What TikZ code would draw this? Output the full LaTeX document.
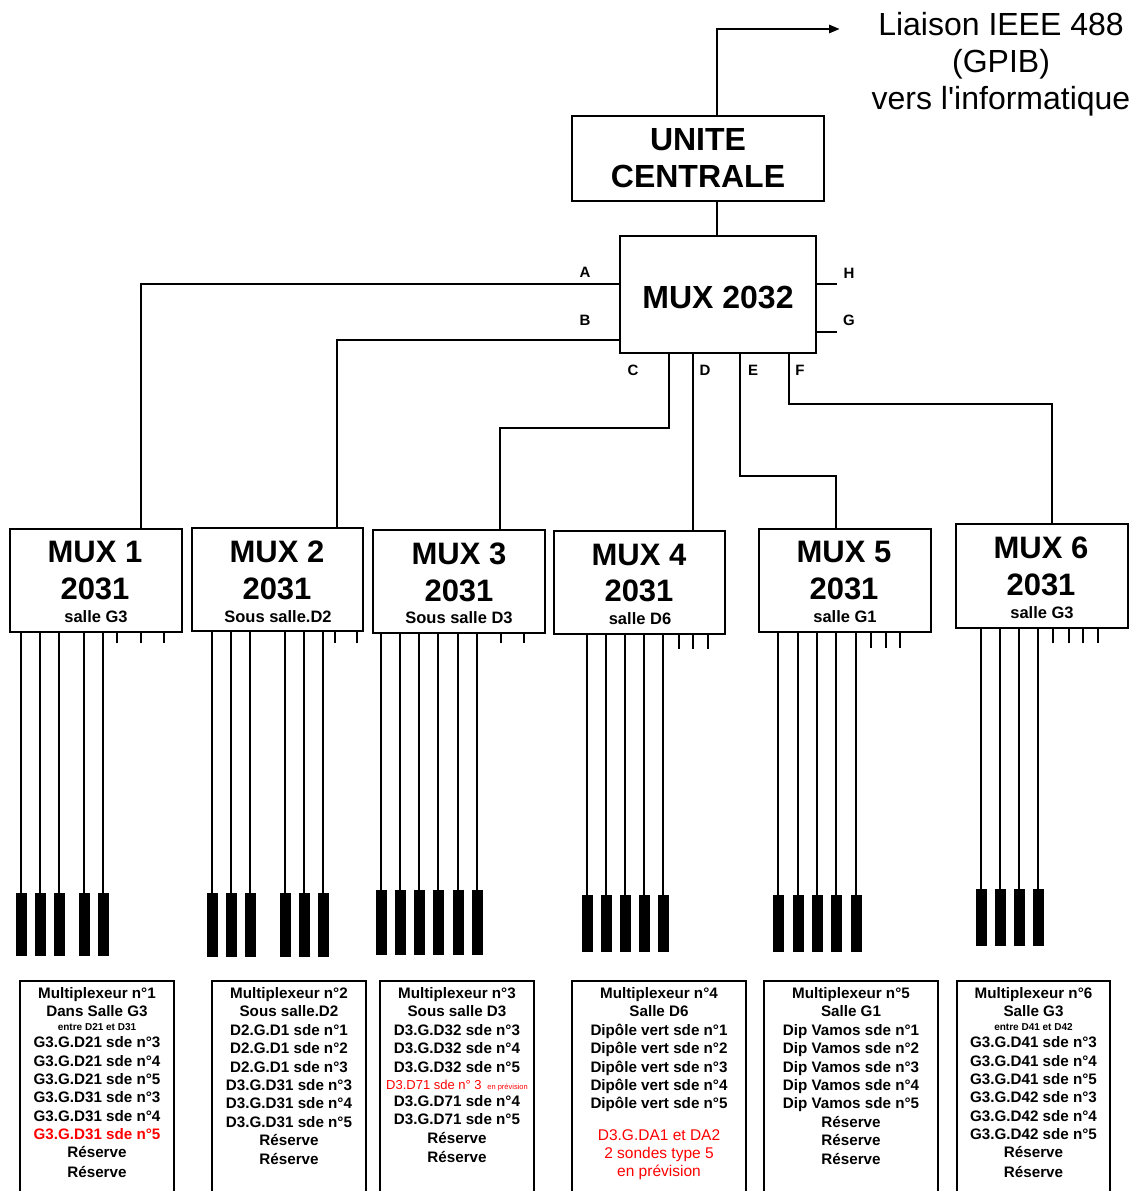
\documentclass[tikz,border=0pt]{standalone}
\usepackage{fontspec}
\setmainfont{Liberation Sans}
\usetikzlibrary{arrows.meta}
\begin{document}
\begin{tikzpicture}[x=1pt,y=-1pt,
  box/.style={draw,line width=2.8pt,inner sep=0pt},
  wire/.style={line width=2.8pt},
  lead/.style={line width=2.6pt},
  huge/.style={font=\fontsize{32}{37}\selectfont\bfseries,anchor=base,inner sep=0pt},
  muxt/.style={font=\fontsize{31}{37}\selectfont\bfseries,anchor=base,inner sep=0pt},
  sall/.style={font=\fontsize{16.5}{18}\selectfont\bfseries,anchor=base,inner sep=0pt},
  lnk/.style={font=\fontsize{32}{37}\selectfont,anchor=base,inner sep=0pt},
  port/.style={font=\fontsize{15}{18}\selectfont\bfseries,anchor=base,inner sep=0pt},
  txt/.style={font=\fontsize{15.2}{18}\selectfont\bfseries,anchor=base,inner sep=0pt},
  tiny/.style={font=\fontsize{10}{12}\selectfont\bfseries,anchor=base,inner sep=0pt},
  redt/.style={font=\fontsize{15.5}{18}\selectfont,text=red,anchor=base,inner sep=0pt}]
\useasboundingbox (0,0) rectangle (1138,1191);

% central unit
\node[box,minimum width=252pt,minimum height=85pt] (uc) at (698,158.5) {};
\node[huge] (uct1) at (698,150.5) {UNITE};
\node[huge] (uct2) at (698,187.5) {CENTRALE};

% link text
\node[lnk] (l1) at (1001,35.5) {Liaison IEEE 488};
\node[lnk] (l2) at (1001,72.5) {(GPIB)};
\node[lnk] (l3) at (1001,109.5) {vers l\textquotesingle informatique};
\coordinate (ucup) at (717,116);
\coordinate (arrend) at (840,29);
\draw[wire,-{Triangle[length=11pt,width=8pt]}] (ucup) |- (arrend);

% MUX 2032
\node[box,minimum width=196pt,minimum height=117pt] (m32) at (718,294.5) {};
\node[huge] (m32t) at (718,308.5) {MUX 2032};
\coordinate (ucdn) at (717,201);
\coordinate (m32up) at (717,236);
\draw[wire] (ucdn) -- (m32up);

% ports
\node[port] (lA) at (585,277) {A};
\node[port] (lB) at (585,325) {B};
\node[port] (lC) at (633,375) {C};
\node[port] (lD) at (705,375) {D};
\node[port] (lE) at (753,375) {E};
\node[port] (lF) at (800,375) {F};
\node[port] (lH) at (849,278) {H};
\node[port] (lG) at (849,325) {G};

% MUX 2031 boxes
\node[box,minimum width=172pt,minimum height=103pt] (mx1) at (96,580.5) {};
\node[box,minimum width=171pt,minimum height=103pt] (mx2) at (277.5,579.5) {};
\node[box,minimum width=172pt,minimum height=103pt] (mx3) at (459,581.5) {};
\node[box,minimum width=171pt,minimum height=103pt] (mx4) at (639.5,582.5) {};
\node[box,minimum width=172pt,minimum height=103pt] (mx5) at (845,580.5) {};
\node[box,minimum width=172pt,minimum height=104pt] (mx6) at (1042,576) {};

\node[muxt] (t1a) at (95,562) {MUX 1};
\node[muxt] (t1b) at (95,599) {2031};
\node[sall] (t1c) at (96,622) {salle G3};
\node[muxt] (t2a) at (277,562) {MUX 2};
\node[muxt] (t2b) at (277,599) {2031};
\node[sall] (t2c) at (278,622) {Sous salle.D2};
\node[muxt] (t3a) at (459,564) {MUX 3};
\node[muxt] (t3b) at (459,601) {2031};
\node[sall] (t3c) at (459,623) {Sous salle D3};
\node[muxt] (t4a) at (639,565) {MUX 4};
\node[muxt] (t4b) at (639,601) {2031};
\node[sall] (t4c) at (640,624) {salle D6};
\node[muxt] (t5a) at (844,562) {MUX 5};
\node[muxt] (t5b) at (844,599) {2031};
\node[sall] (t5c) at (845,622) {salle G1};
\node[muxt] (t6a) at (1041,558) {MUX 6};
\node[muxt] (t6b) at (1041,595) {2031};
\node[sall] (t6c) at (1042,618) {salle G3};

% connectors from MUX 2032
\coordinate (pA) at (620,284); \coordinate (i1) at (141,529);
\coordinate (pB) at (620,340); \coordinate (i2) at (337,528);
\coordinate (pC) at (669,353); \coordinate (kC) at (669,428); \coordinate (i3) at (500,530);
\coordinate (pD) at (693,353); \coordinate (i4) at (693,531);
\coordinate (pE) at (740,353); \coordinate (kE) at (740,476); \coordinate (i5) at (836,529);
\coordinate (pF) at (789,353); \coordinate (kF) at (789,404); \coordinate (i6) at (1052,524);
\coordinate (pH) at (816,284); \coordinate (eH) at (837,284);
\coordinate (pG) at (816,332); \coordinate (eG) at (837,332);
\draw[wire] (pA) -| (i1);
\draw[wire] (pB) -| (i2);
\draw[wire] (pC) -- (kC) -| (i3);
\draw[wire] (pD) -- (i4);
\draw[wire] (pE) -- (kE) -| (i5);
\draw[wire] (pF) -- (kF) -| (i6);
\draw[wire] (pH) -- (eH);
\draw[wire] (pG) -- (eG);

% leads, probes and stubs
\foreach \x in {21,40,59,84,103} {\draw[lead] (\x,632) -- (\x,893); \fill (\x-5.5,893) rectangle (\x+5.5,956);}
\foreach \x in {117,141,164} {\draw[lead] (\x,632) -- (\x,643);}
\foreach \x in {212,231,250,285,304,323} {\draw[lead] (\x,631) -- (\x,893); \fill (\x-5.5,893) rectangle (\x+5.5,957);}
\foreach \x in {335,357} {\draw[lead] (\x,631) -- (\x,643);}
\foreach \x in {381,400,419,438,458,477} {\draw[lead] (\x,633) -- (\x,890); \fill (\x-5.5,890) rectangle (\x+5.5,955);}
\foreach \x in {501,524} {\draw[lead] (\x,633) -- (\x,643);}
\foreach \x in {587,606,625,644,663} {\draw[lead] (\x,634) -- (\x,895); \fill (\x-5.5,895) rectangle (\x+5.5,952);}
\foreach \x in {679,693,708} {\draw[lead] (\x,634) -- (\x,649);}
\foreach \x in {778,798,817,836,856} {\draw[lead] (\x,632) -- (\x,895); \fill (\x-5.5,895) rectangle (\x+5.5,952);}
\foreach \x in {871,886,900} {\draw[lead] (\x,632) -- (\x,648);}
\foreach \x in {981,1000,1019,1038} {\draw[lead] (\x,628) -- (\x,889); \fill (\x-5.5,889) rectangle (\x+5.5,946);}
\foreach \x in {1053,1069,1083,1098} {\draw[lead] (\x,628) -- (\x,643);}

% bottom description boxes (open at the bottom edge)
\foreach \l/\r in {20/174,212/366,380/534,572/746,764/938,957/1110}
  {\draw[wire] (\l,1196) -- (\l,981) -- (\r,981) -- (\r,1196);}

% box 1
\foreach \ty/\tx [count=\i] in {993/Multiplexeur n°1,1011/Dans Salle G3,1042/G3.G.D21 sde n°3,1061/G3.G.D21 sde n°4,1079/G3.G.D21 sde n°5,1097/G3.G.D31 sde n°3,1116/G3.G.D31 sde n°4,1152/Réserve,1172/Réserve}
  {\node[txt] (ba\i) at (97,\ty+5.5) {\tx};}
\node[tiny] (bas) at (97,1030.5) {entre D21 et D31};
\node[txt,text=red] (bar) at (97,1139.5) {G3.G.D31 sde n°5};

% box 2
\foreach \ty/\tx [count=\i] in {993/Multiplexeur n°2,1011/Sous salle.D2,1030/D2.G.D1 sde n°1,1048/D2.G.D1 sde n°2,1067/D2.G.D1 sde n°3,1085/D3.G.D31 sde n°3,1103/D3.G.D31 sde n°4,1122/D3.G.D31 sde n°5,1140/Réserve,1159/Réserve}
  {\node[txt] (bb\i) at (289,\ty+5.5) {\tx};}

% box 3
\foreach \ty/\tx [count=\i] in {993/Multiplexeur n°3,1011/Sous salle D3,1030/D3.G.D32 sde n°3,1048/D3.G.D32 sde n°4,1067/D3.G.D32 sde n°5,1101/D3.G.D71 sde n°4,1119/D3.G.D71 sde n°5,1138/Réserve,1157/Réserve}
  {\node[txt] (bc\i) at (457,\ty+5.5) {\tx};}
\node[font=\fontsize{13}{15}\selectfont,text=red,anchor=base,inner sep=0pt] (bcr) at (457,1089.5)
  {D3.D71 sde n° 3 {\fontsize{7.5}{9}\selectfont\ en prévision}};

% box 4
\foreach \ty/\tx [count=\i] in {993/Multiplexeur n°4,1011/Salle D6,1030/Dipôle vert sde n°1,1048/Dipôle vert sde n°2,1067/Dipôle vert sde n°3,1085/Dipôle vert sde n°4,1103/Dipôle vert sde n°5}
  {\node[txt] (bd\i) at (659,\ty+5.5) {\tx};}
\foreach \ty/\tx [count=\i] in {1135/D3.G.DA1 et DA2,1153/2 sondes type 5,1171/en prévision}
  {\node[redt] (bdr\i) at (659,\ty+5.5) {\tx};}

% box 5
\foreach \ty/\tx [count=\i] in {993/Multiplexeur n°5,1011/Salle G1,1030/Dip Vamos sde n°1,1048/Dip Vamos sde n°2,1067/Dip Vamos sde n°3,1085/Dip Vamos sde n°4,1103/Dip Vamos sde n°5,1122/Réserve,1140/Réserve,1159/Réserve}
  {\node[txt] (be\i) at (851,\ty+5.5) {\tx};}

% box 6
\foreach \ty/\tx [count=\i] in {993/Multiplexeur n°6,1011/Salle G3,1042/G3.G.D41 sde n°3,1061/G3.G.D41 sde n°4,1079/G3.G.D41 sde n°5,1097/G3.G.D42 sde n°3,1116/G3.G.D42 sde n°4,1134/G3.G.D42 sde n°5,1152/Réserve,1172/Réserve}
  {\node[txt] (bf\i) at (1033.5,\ty+5.5) {\tx};}
\node[tiny] (bfs) at (1033.5,1030.5) {entre D41 et D42};
\end{tikzpicture}
\end{document}
